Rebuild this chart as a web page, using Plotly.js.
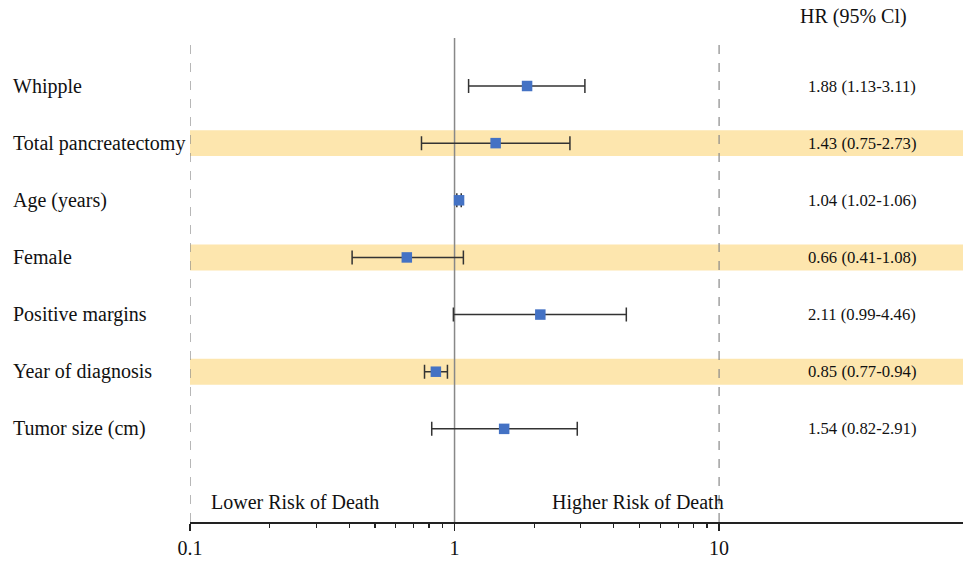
<!DOCTYPE html>
<html>
<head>
<meta charset="utf-8">
<script src="https://cdn.plot.ly/plotly-3.0.1.min.js"></script>
<style>html,body{margin:0;padding:0;background:#fff;}#chart{width:963px;height:562px;}</style>
</head>
<body>
<div id="chart"></div>
<script>
const variables = ["Whipple", "Total pancreatectomy", "Age (years)", "Female", "Positive margins", "Year of diagnosis", "Tumor size (cm)"];
const hr = [1.88, 1.43, 1.04, 0.66, 2.11, 0.85, 1.54];
const ciLow = [1.13, 0.75, 1.02, 0.41, 0.99, 0.77, 0.82];
const ciHigh = [3.11, 2.73, 1.06, 1.08, 4.46, 0.94, 2.91];
const shaded = [false, true, false, true, false, true, false];
const xTickVals = [0.1, 1, 10];
const xTickText = ["0.1", "1", "10"];
const minorTickVals = [0.2,0.3,0.4,0.5,0.6,0.7,0.8,0.9,2,3,4,5,6,7,8,9];

const n = variables.length;
const yPos = variables.map((_, i) => n - i);
const hrLabels = hr.map((h, i) => h.toFixed(2) + " (" + ciLow[i].toFixed(2) + "-" + ciHigh[i].toFixed(2) + ")");

const serif = "Liberation Serif, Times New Roman, serif";

const trace = {
  type: "scatter",
  mode: "markers",
  x: hr,
  y: yPos,
  marker: {symbol: "square", size: 10.5, color: "#4472C4"},
  error_x: {
    type: "data",
    symmetric: false,
    array: hr.map((h, i) => ciHigh[i] - h),
    arrayminus: hr.map((h, i) => h - ciLow[i]),
    color: "#333333",
    thickness: 1.5,
    width: 7
  },
  hoverinfo: "skip",
  showlegend: false
};

// invisible trace carrying the minor tick positions on the x axis (for a second, overlaid axis)
const minorTrace = {
  type: "scatter", mode: "markers", x: minorTickVals, y: minorTickVals.map(() => -0.5),
  xaxis: "x2", marker: {size: 0, opacity: 0}, hoverinfo: "skip", showlegend: false
};

const shapes = [];
yPos.forEach((y, i) => {
  if (shaded[i]) {
    shapes.push({type: "rect", xref: "paper", yref: "y", x0: 0, x1: 1, y0: y - 0.227, y1: y + 0.227,
      fillcolor: "#FDE6AE", line: {width: 0}, layer: "below"});
  }
});
shapes.push({type: "line", xref: "x", yref: "paper", x0: 0.1, x1: 0.1, y0: 0, y1: 1, line: {color: "#888", width: 1.2, dash: "dash"}, layer: "below"});
shapes.push({type: "line", xref: "x", yref: "paper", x0: 10, x1: 10, y0: 0, y1: 1, line: {color: "#888", width: 1.2, dash: "dash"}, layer: "below"});
shapes.push({type: "line", xref: "x", yref: "paper", x0: 1, x1: 1, y0: 0, y1: 1, line: {color: "#888", width: 1.5}, layer: "below"});

const annotations = [];
variables.forEach((v, i) => {
  annotations.push({xref: "paper", yref: "y", x: (11 - 190) / 773, y: yPos[i], text: v, showarrow: false,
    xanchor: "left", yanchor: "middle", font: {family: serif, size: 20, color: "#111"}});
  annotations.push({xref: "paper", yref: "y", x: 0.8687, y: yPos[i], text: hrLabels[i], showarrow: false,
    xanchor: "center", yanchor: "middle", font: {family: serif, size: 16.7, color: "#111"}});
});
annotations.push({xref: "paper", yref: "paper", x: 0.8586, y: 1.045, text: "HR (95% Cl)", showarrow: false,
  xanchor: "center", yanchor: "middle", font: {family: serif, size: 20, color: "#111"}});
annotations.push({xref: "paper", yref: "paper", x: (294.5 - 190) / 773, y: (522 - 502) / 484, text: "Lower Risk of Death", showarrow: false,
  xanchor: "center", yanchor: "middle", font: {family: serif, size: 20, color: "#111"}});
annotations.push({xref: "paper", yref: "paper", x: (638 - 190) / 773, y: (522 - 502) / 484, text: "Higher Risk of Death", showarrow: false,
  xanchor: "center", yanchor: "middle", font: {family: serif, size: 20, color: "#111"}});

const layout = {
  width: 963, height: 562,
  margin: {l: 190, r: 0, t: 38, b: 40, pad: 0},
  paper_bgcolor: "#fff", plot_bgcolor: "#fff",
  xaxis: {
    type: "log",
    range: [-1, 1.922],
    tickmode: "array", tickvals: xTickVals, ticktext: xTickText,
    ticks: "outside", ticklen: 7, tickwidth: 1.2, tickcolor: "#222",
    showline: true, linecolor: "#222", linewidth: 1.5,
    showgrid: false, zeroline: false,
    tickfont: {family: serif, size: 20, color: "#111"}
  },
  xaxis2: {
    type: "log",
    overlaying: "x", side: "bottom", matches: "x",
    range: [-1, 1.922],
    tickmode: "array", tickvals: minorTickVals, ticktext: minorTickVals.map(() => ""),
    ticks: "outside", ticklen: 5, tickwidth: 1.2, tickcolor: "#222",
    showline: false, showgrid: false, zeroline: false, showticklabels: false
  },
  yaxis: {
    range: [-0.63, 7.84],
    showticklabels: false, ticks: "", showgrid: false, zeroline: false, showline: false
  },
  shapes: shapes,
  annotations: annotations
};

Plotly.newPlot("chart", [minorTrace, trace], layout, {displayModeBar: false, staticPlot: true});
</script>
</body>
</html>
